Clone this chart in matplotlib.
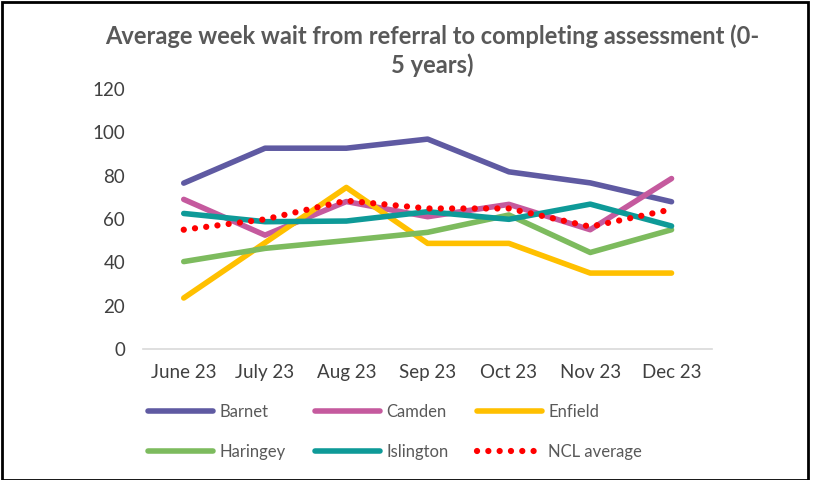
import matplotlib
matplotlib.use('Agg')
import matplotlib.pyplot as plt
from matplotlib.patches import Rectangle

plt.rcParams['font.family'] = ['Lato', 'DejaVu Sans']

months = ['June 23', 'July 23', 'Aug 23', 'Sep 23', 'Oct 23', 'Nov 23', 'Dec 23']
barnet = [76.5, 92.6, 92.6, 96.8, 81.7, 76.6, 67.9]
camden = [69, 52.5, 68, 61, 66.7, 55, 78.6]
enfield = [23.5, 49, 74.5, 48.7, 48.7, 35, 35]
haringey = [40.3, 46.4, 50, 53.8, 61.8, 44.5, 55]
islington = [62.5, 58.7, 59, 63.3, 59.8, 66.8, 56.7]
ncl_avg = [55, 59.8, 68.4, 64.8, 64.8, 56.4, 64.4]

series = [
    ('Barnet', barnet, '#5F5AA2'),
    ('Camden', camden, '#C55A9E'),
    ('Enfield', enfield, '#FFC000'),
    ('Haringey', haringey, '#7DBB5E'),
    ('Islington', islington, '#0E9A98'),
]

text_col = '#595959'

fig = plt.figure(figsize=(8.13, 4.8), dpi=100)
ax = fig.add_axes([0.176, 0.273, 0.700, 0.542])

x = range(len(months))
handles = {}
for name, vals, col in series:
    handles[name], = ax.plot(x, vals, color=col, lw=4, label=name, solid_capstyle='round')
handles['NCL average'], = ax.plot(x, ncl_avg, color='#FF0000', lw=4.5,
                                  linestyle=(0, (0.01, 1.8)), dash_capstyle='round',
                                  label='NCL average')

ax.set_xlim(-0.5, len(months) - 0.5)
ax.set_ylim(0, 120)
ax.set_yticks(range(0, 121, 20))
ax.set_xticks(list(x))
ax.set_xticklabels(months)
ax.tick_params(axis='both', length=0, labelsize=13.5, colors='#404040')
ax.tick_params(axis='x', pad=11)
ax.tick_params(axis='y', pad=13)
for s in ['top', 'right', 'left']:
    ax.spines[s].set_visible(False)
ax.spines['bottom'].set_color('#D9D9D9')
ax.spines['bottom'].set_linewidth(1.2)

fig.text(0.532, 0.894, 'Average week wait from referral to completing assessment (0-\n5 years)',
         ha='center', va='center', fontsize=17, fontweight='bold', color=text_col,
         linespacing=1.3)

# legend fills by column, so reorder to read row by row
order = ['Barnet', 'Haringey', 'Camden', 'Islington', 'Enfield', 'NCL average']
leg = fig.legend([handles[k] for k in order], order, loc='center left',
                 bbox_to_anchor=(0.164, 0.1), ncol=3, frameon=False,
                 fontsize=12, handlelength=3.9, columnspacing=1.7, labelspacing=1.45,
                 handletextpad=0.4)
for t in leg.get_texts():
    t.set_color(text_col)

fig.add_artist(Rectangle((0.002, 0.0), 0.992, 0.996, transform=fig.transFigure,
                         fill=False, edgecolor='black', lw=2))

fig.savefig('out.png', dpi=100)
